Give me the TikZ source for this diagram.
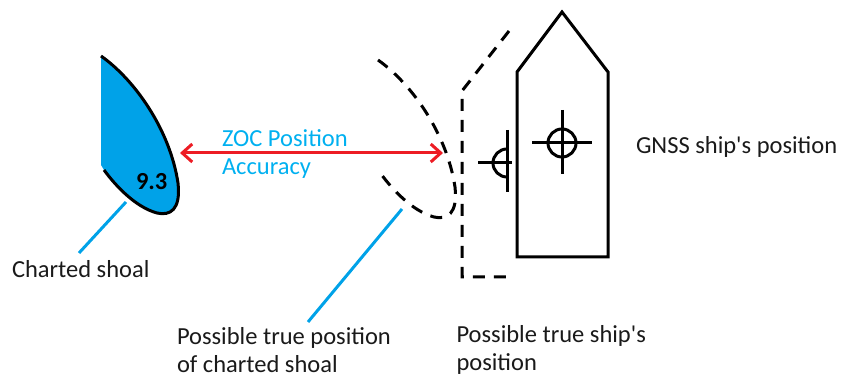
\documentclass[tikz,border=0pt]{standalone}
\usepackage{fontspec}
\setmainfont{Carlito}[Ligatures=TeXOff]
\usetikzlibrary{arrows.meta}
\definecolor{shoalblue}{HTML}{00A2E8}
\definecolor{lightblue}{HTML}{00B0F0}
\definecolor{arrred}{HTML}{ED1C24}
\definecolor{txt}{HTML}{1A1A1A}
\tikzset{
  lbl/.style={inner sep=0pt, outer sep=0pt, anchor=base west, align=left, text=txt,
    font=\fontsize{12.25pt}{14pt}\selectfont},
  thick line/.style={line width=1.5pt},
  dashline/.style={line width=1.5pt, dash pattern=on 6pt off 4.5pt},
  leader/.style={line width=1.5pt, draw=shoalblue},
  acc/.style={line width=1.5pt, draw=arrred, {Straight Barb[length=5pt,width=9pt]}-{Straight Barb[length=5pt,width=9pt]}},
}
\begin{document}
\begin{tikzpicture}[x=0.5pt,y=-0.5pt]
\useasboundingbox (0,0) rectangle (841,378);
% charted shoal
\fill[shoalblue] (101,56) .. controls (135,80) and (170,130) .. (178,183)
  .. controls (181,210) and (170,216) .. (157,213)
  .. controls (135,207) and (115,185) .. (104,170) -- (101,165) -- cycle;
\draw[thick line] (101,56) .. controls (135,80) and (170,130) .. (178,183)
  .. controls (181,210) and (170,216) .. (157,213)
  .. controls (135,207) and (115,185) .. (104,170);
\node[lbl, font=\fontsize{12.25pt}{14pt}\selectfont\bfseries, text=black] (depth) at (136,190) {9.3};
% possible true position of shoal (dashed)
\draw[dashline] (378,60) .. controls (412,84) and (447,134) .. (455,187)
  .. controls (458,214) and (447,220) .. (434,217)
  .. controls (412,211) and (392,189) .. (381,174);
% dashed ship
\draw[dashline] (509,31) -- (462,91) -- (462,277) -- (514,277);
% small crosshair (possible ship position)
\draw[thick line] (507,149) arc[start angle=90,end angle=270,radius=7pt];
\draw[thick line] (478,163) -- (512,163);
\draw[thick line] (507,130) -- (507,192);
% ship
\draw[thick line, line join=miter] (517,72) -- (562,12) -- (608,72) -- (608,257) -- (517,257) -- cycle;
\draw[thick line] (562,143) circle[radius=7pt];
\draw[thick line] (532,143) -- (592,143);
\draw[thick line] (562,110) -- (562,174);
% accuracy arrow
\coordinate (accL) at (180,153);
\coordinate (accR) at (443,153);
\draw[acc] (accL) -- (accR);
\node[lbl, text=lightblue] (zoc) at (222,175) {ZOC Position\\Accuracy};
% labels
\node[lbl] (charted) at (12,277.5) {Charted shoal};
\node[lbl] (possshoal) at (177,373) {Possible true position\\of charted shoal};
\node[lbl] (possship) at (456.5,371) {Possible true ship's\\position};
\node[lbl] (gnss) at (636,153.5) {GNSS ship's position};
% leaders
\coordinate (shoalpt) at (126,202);
\coordinate (chartedend) at (79,253);
\coordinate (posspt) at (402,209);
\coordinate (possend) at (308,322);
\draw[leader] (shoalpt) -- (chartedend);
\draw[leader] (posspt) -- (possend);
\end{tikzpicture}
\end{document}
